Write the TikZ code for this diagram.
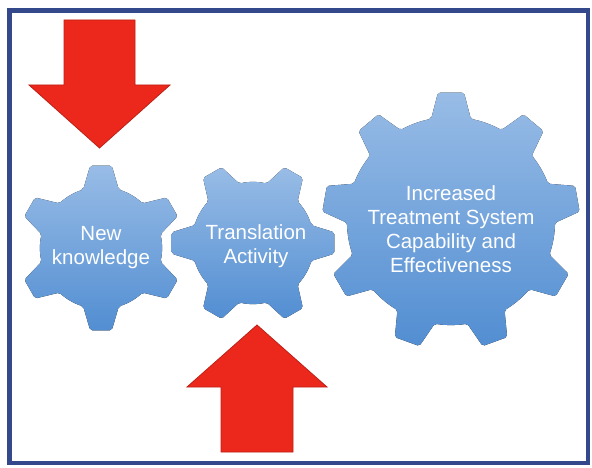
\documentclass[tikz,border=0pt]{standalone}
\usepackage{fontspec}
\setmainfont{Liberation Sans}
\usepackage{tikz}
\usetikzlibrary{positioning}
\definecolor{framecol}{RGB}{52,72,140}
\definecolor{geartop}{RGB}{152,188,230}
\definecolor{gearbot}{RGB}{82,142,210}
\definecolor{arrowred}{RGB}{236,40,28}
\tikzstyle{gear}=[top color=geartop,bottom color=gearbot,draw=none,rounded corners=2]
\tikzstyle{geartext}=[text=white,align=center,font=\fontsize{20.5}{24}\selectfont]
\tikzstyle{bigarrow}=[fill=arrowred,draw=arrowred!80!black,line width=0.8pt,line join=miter]

% gear outline: teeth, inner r, outer r, first tooth angle, half angle at base, half angle at tip
\newcommand{\gearpath}[6]{%
  (#4-#5:#2) \foreach \k in {1,...,#1}{
    -- ({#4+(\k-1)*360/#1-#6}:#3) -- ({#4+(\k-1)*360/#1+#6}:#3)
    -- ({#4+(\k-1)*360/#1+#5}:#2)
    arc[start angle={#4+(\k-1)*360/#1+#5}, end angle={#4+\k*360/#1-#5}, radius=#2]
  } -- cycle}

\begin{document}
\begin{tikzpicture}[x=1pt,y=-1pt]
\useasboundingbox (0,0) rectangle (592,468);
\fill[white] (0,0) rectangle (592,468);
\draw[framecol,line width=4.5] (9.5,10.5) rectangle (588,463);

\coordinate (g1) at (101,248);
\coordinate (g2) at (253,243);
\coordinate (g3) at (451,221);

\fill[gear,shift={(g1)}] \gearpath{6}{61}{83}{-90}{17}{7.5};
\fill[gear,shift={(g2)}] \gearpath{6}{61}{82}{0}{17}{7.5};
\fill[gear,shift={(g3)}] \gearpath{9}{104}{129}{-90}{11}{5.8};

\node[geartext] (newk) at (101,248) {New\\knowledge};
\node[geartext] (trans) at (256,246) {Translation\\Activity};
\node[geartext] (treat) at (451,229) {Increased\\Treatment System\\Capability and\\Effectiveness};

\draw[bigarrow] (64,20) -- (135,20) -- (135,85) -- (170,85) -- (99.5,148)
	-- (29,85) -- (64,85) -- cycle;
\draw[bigarrow] (221,452) -- (293,452) -- (293,387) -- (327,387) -- (257,325)
	-- (187,387) -- (221,387) -- cycle;

\end{tikzpicture}
\end{document}
